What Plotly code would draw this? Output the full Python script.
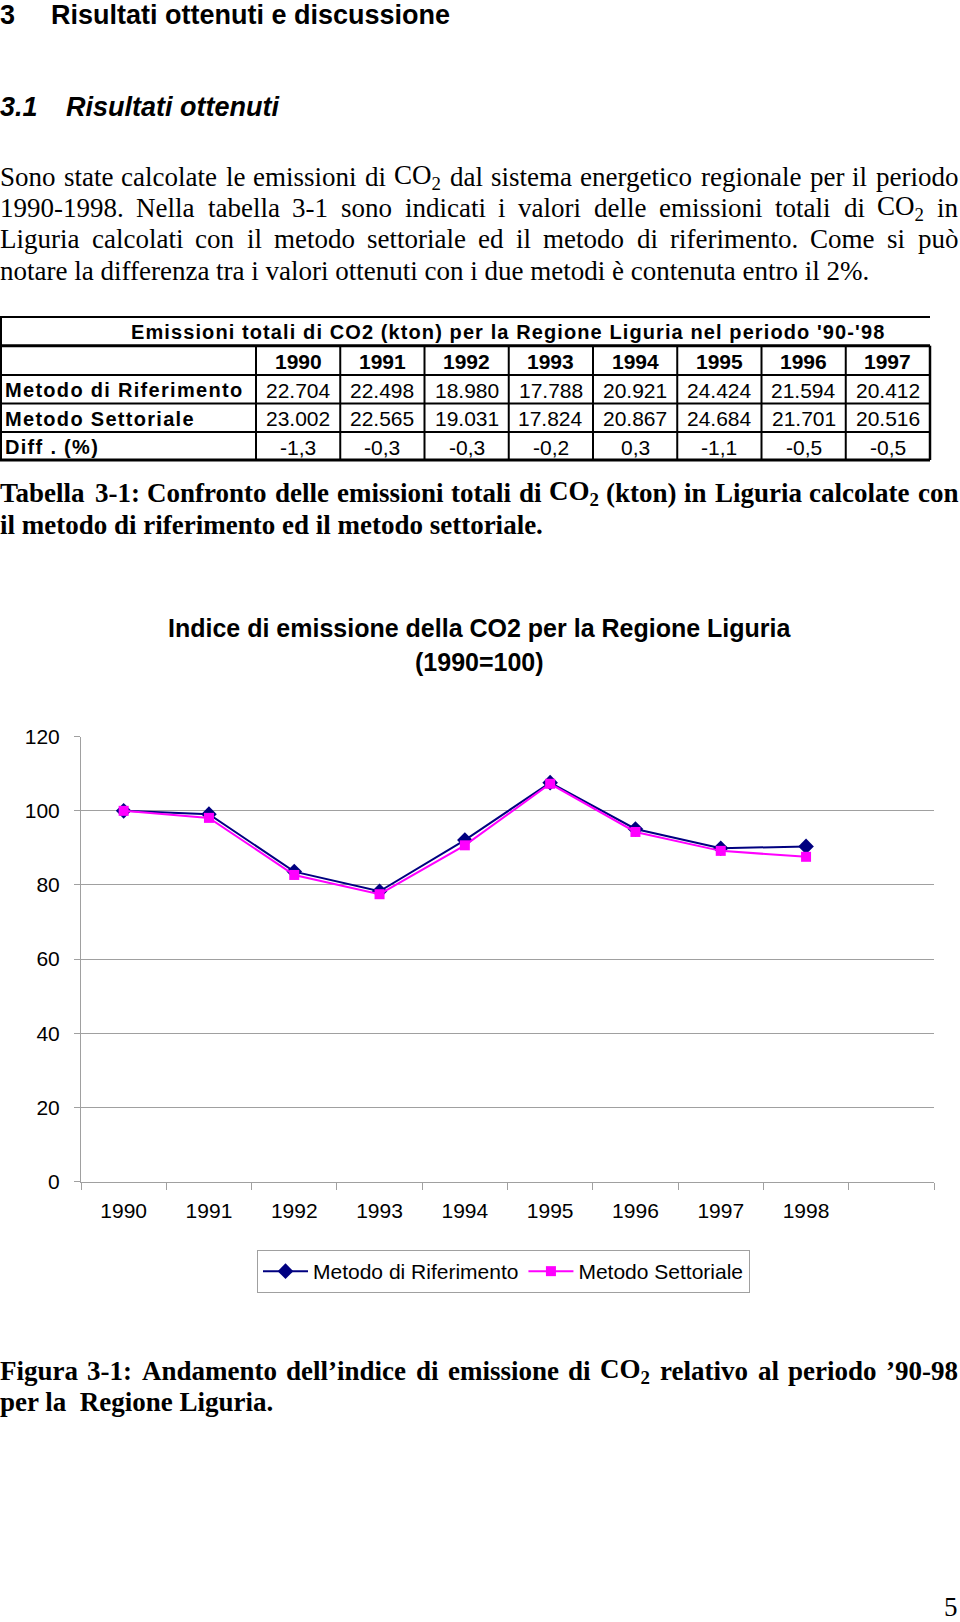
import plotly.graph_objects as go

W, H = 960, 1622


def px(x):
    return x / W


def py(y):
    return 1 - y / H


# ---------------- data ----------------
years = ["1990", "1991", "1992", "1993", "1994", "1995", "1996", "1997", "1998"]
indice_riferimento = [100, 99.1, 83.6, 78.3, 92.1, 107.6, 95.1, 89.9, 90.4]
indice_settoriale = [100, 98.1, 82.7, 77.5, 90.7, 107.3, 94.3, 89.2, 87.6]
y_ticks = [0, 20, 40, 60, 80, 100, 120]

table_years = ["1990", "1991", "1992", "1993", "1994", "1995", "1996", "1997"]
table_riferimento = ["22.704", "22.498", "18.980", "17.788", "20.921", "24.424", "21.594", "20.412"]
table_settoriale = ["23.002", "22.565", "19.031", "17.824", "20.867", "24.684", "21.701", "20.516"]
table_diff = ["-1,3", "-0,3", "-0,3", "-0,2", "0,3", "-1,1", "-0,5", "-0,5"]
table_rows = ["Metodo di Riferimento", "Metodo Settoriale", "Diff . (%)"]

SERIF = "Liberation Serif, Times New Roman, serif"
SANS = "Liberation Sans, Arial, sans-serif"

# Times metrics (per 1000 em)
TIMES_R = {' ': 250, '%': 833, '(': 333, ')': 333, ',': 250, '-': 333, '.': 250, ':': 278,
           '’': 333, "'": 180, '=': 564,
           'A': 722, 'B': 667, 'C': 667, 'D': 722, 'E': 611, 'F': 556, 'G': 722, 'H': 722,
           'I': 333, 'L': 611, 'M': 889, 'N': 722, 'O': 722, 'P': 556, 'R': 667, 'S': 556,
           'T': 611, 'a': 444, 'b': 500, 'c': 444, 'd': 500, 'e': 444, 'f': 333, 'g': 500,
           'h': 500, 'i': 278, 'j': 278, 'k': 500, 'l': 278, 'm': 778, 'n': 500, 'o': 500,
           'p': 500, 'q': 500, 'r': 333, 's': 389, 't': 278, 'u': 500, 'v': 500, 'w': 722,
           'x': 500, 'y': 500, 'z': 444, 'è': 444, 'ò': 500, 'ù': 500, 'à': 444}
TIMES_B = {' ': 250, '%': 1000, '(': 333, ')': 333, ',': 250, '-': 333, '.': 250, ':': 333,
           '’': 333, "'": 278,
           'A': 722, 'B': 667, 'C': 722, 'D': 722, 'E': 667, 'F': 611, 'G': 778, 'H': 778,
           'I': 389, 'L': 667, 'M': 944, 'N': 722, 'O': 778, 'P': 611, 'R': 722, 'S': 556,
           'T': 667, 'a': 500, 'b': 556, 'c': 444, 'd': 556, 'e': 444, 'f': 333, 'g': 500,
           'h': 556, 'i': 278, 'j': 333, 'k': 556, 'l': 278, 'm': 833, 'n': 556, 'o': 500,
           'p': 556, 'q': 556, 'r': 444, 's': 389, 't': 333, 'u': 556, 'v': 500, 'w': 722,
           'x': 500, 'y': 500, 'z': 444}
for d in "0123456789":
    TIMES_R[d] = 500
    TIMES_B[d] = 500
SUB = "₂"


def word_w(word, table):
    w = 0
    for ch in word:
        if ch == SUB:
            w += 0.7 * 500
        else:
            w += table.get(ch, 500)
    return w / 1000


def to_html(s):
    return s.replace(SUB, "<sub>2</sub>")


annotations = []
shapes = []


def text(x, y, s, size, family=SANS, xanchor="left", color="black", yanchor="middle"):
    annotations.append(dict(
        x=px(x), y=py(y), xref="paper", yref="paper", text=s, showarrow=False,
        xanchor=xanchor, yanchor=yanchor, borderpad=0, borderwidth=0,
        font=dict(family=family, size=size, color=color)))


def justify(line, y, size, bold=False, x0=0, x1=958):
    table = TIMES_B if bold else TIMES_R
    words = line.split(" ")
    widths = [word_w(w, table) * size for w in words]
    gap = (x1 - x0 - sum(widths)) / (len(words) - 1)
    x = x0
    for w, wd in zip(words, widths):
        s = to_html(w)
        if bold:
            s = "<b>" + s + "</b>"
        text(x, y, s, size, SERIF)
        x += wd + gap


# ---------------- headings ----------------
text(0, 0, "<b>3</b>", 27, yanchor="top")
text(51, 0, "<b>Risultati ottenuti e discussione</b>", 27, yanchor="top")
text(0, 107, "<b><i>3.1</i></b>", 27)
text(66, 107, "<b><i>Risultati ottenuti</i></b>", 27)

# ---------------- paragraph ----------------
BS = 27
justify("Sono state calcolate le emissioni di CO₂ dal sistema energetico regionale per il periodo", 177, BS)
justify("1990-1998. Nella tabella 3-1 sono indicati i valori delle emissioni totali di CO₂ in", 208, BS)
justify("Liguria calcolati con il metodo settoriale ed il metodo di riferimento. Come si può", 239, BS)
text(0, 271, "notare la differenza tra i valori ottenuti con i due metodi è contenuta entro il 2%.", BS, SERIF)

# ---------------- table ----------------
T_TOP, T_H1, T_H2 = 317, 345.7, 375
ROW_Y = [375, 403.5, 432, 460]
C0, C1 = 1, 256
CW = (930 - 256) / 8
T_RIGHT = 930


def hline(x0, x1, y, w=2):
    shapes.append(dict(type="line", xref="paper", yref="paper", x0=px(x0), x1=px(x1),
                       y0=py(y), y1=py(y), line=dict(color="black", width=w)))


def vline(x, y0, y1, w=2):
    shapes.append(dict(type="line", xref="paper", yref="paper", x0=px(x), x1=px(x),
                       y0=py(y0), y1=py(y1), line=dict(color="black", width=w)))


hline(0, T_RIGHT, T_TOP, 2)
hline(0, T_RIGHT, T_H1, 3)
for yy in ROW_Y[:-1]:
    hline(0, T_RIGHT, yy, 2)
hline(0, T_RIGHT, ROW_Y[-1], 3)
vline(C0, T_TOP, ROW_Y[-1], 2)
vline(T_RIGHT, T_H1, ROW_Y[-1], 2.5)
for k in range(8):
    vline(C1 + k * CW, T_H1, ROW_Y[-1], 2)

LS_T = '<span style="letter-spacing:1.1px">'
LS_R = '<span style="letter-spacing:1.3px">'
text(508, 331.5, LS_T + "<b>Emissioni totali di CO2 (kton) per la Regione Liguria nel periodo '90-'98</b></span>",
     20, SANS, "center")
for k, yr in enumerate(table_years):
    text(C1 + (k + 0.5) * CW, (T_H1 + T_H2) / 2 + 1, "<b>" + yr + "</b>", 21, SANS, "center")
row_vals = [table_riferimento, table_settoriale, table_diff]
for r, (lab, vals) in enumerate(zip(table_rows, row_vals)):
    yc = (ROW_Y[r] + ROW_Y[r + 1]) / 2 + 1
    text(5, yc, LS_R + "<b>" + lab + "</b></span>", 20, SANS, "left")
    for k, v in enumerate(vals):
        text(C1 + (k + 0.5) * CW, yc, v, 21, SANS, "center")

# ---------------- table caption ----------------
justify("Tabella 3-1: Confronto delle emissioni totali di CO₂ (kton) in Liguria calcolate con", 493, BS, bold=True)
text(0, 525, "<b>il metodo di riferimento ed il metodo settoriale.</b>", BS, SERIF)

# ---------------- chart title ----------------
text(479, 628, "<b>Indice di emissione della CO2 per la Regione Liguria</b>", 25, SANS, "center")
text(479, 662, "<b>(1990=100)</b>", 25, SANS, "center")

# ---------------- figure caption ----------------
justify("Figura 3-1: Andamento dell’indice di emissione di CO₂ relativo al periodo ’90-98", 1371, BS, bold=True)
text(0, 1402, "<b>per la  Regione Liguria.</b>", BS, SERIF)

# page number
text(958, 1622, "5", BS, SERIF, "right", yanchor="bottom")

# ---------------- chart ----------------
fig = go.Figure()
fig.add_trace(go.Scatter(
    x=years, y=indice_riferimento, mode="lines+markers", name="Metodo di Riferimento",
    line=dict(color="#000080", width=2),
    marker=dict(symbol="diamond", size=12, color="#000080")))
fig.add_trace(go.Scatter(
    x=years, y=indice_settoriale, mode="lines+markers", name="Metodo Settoriale",
    line=dict(color="#FF00FF", width=2),
    marker=dict(symbol="square", size=10, color="#FF00FF")))

AX = "#a0a0a0"
fig.update_layout(
    width=W, height=H, margin=dict(l=0, r=0, t=0, b=0, autoexpand=False),
    paper_bgcolor="white", plot_bgcolor="white",
    showlegend=True,
    legend=dict(orientation="h", x=px(503.5), xanchor="center", y=py(1250), yanchor="top",
                bordercolor="#a0a0a0", borderwidth=1, font=dict(family=SANS, size=21, color="black"),
                itemwidth=45, tracegroupgap=0),
    xaxis=dict(domain=[px(81), px(934)], type="category", categoryorder="array",
               categoryarray=years + [" "], range=[-0.5, 9.5], tickson="boundaries",
               ticks="outside", ticklen=7, tickcolor=AX, showline=True, linecolor=AX,
               showgrid=False, zeroline=False, ticklabelstandoff=10,
               tickfont=dict(family=SANS, size=21, color="black")),
    yaxis=dict(domain=[py(1181.5), py(736.7)], range=[0, 120], tickvals=y_ticks,
               ticks="outside", ticklen=6, tickcolor=AX, showline=True, linecolor=AX,
               showgrid=True, gridcolor=AX, gridwidth=1, zeroline=False,
               ticklabelstandoff=10, tickfont=dict(family=SANS, size=21, color="black")),
    annotations=annotations, shapes=shapes,
)

fig.write_html("out.html")
